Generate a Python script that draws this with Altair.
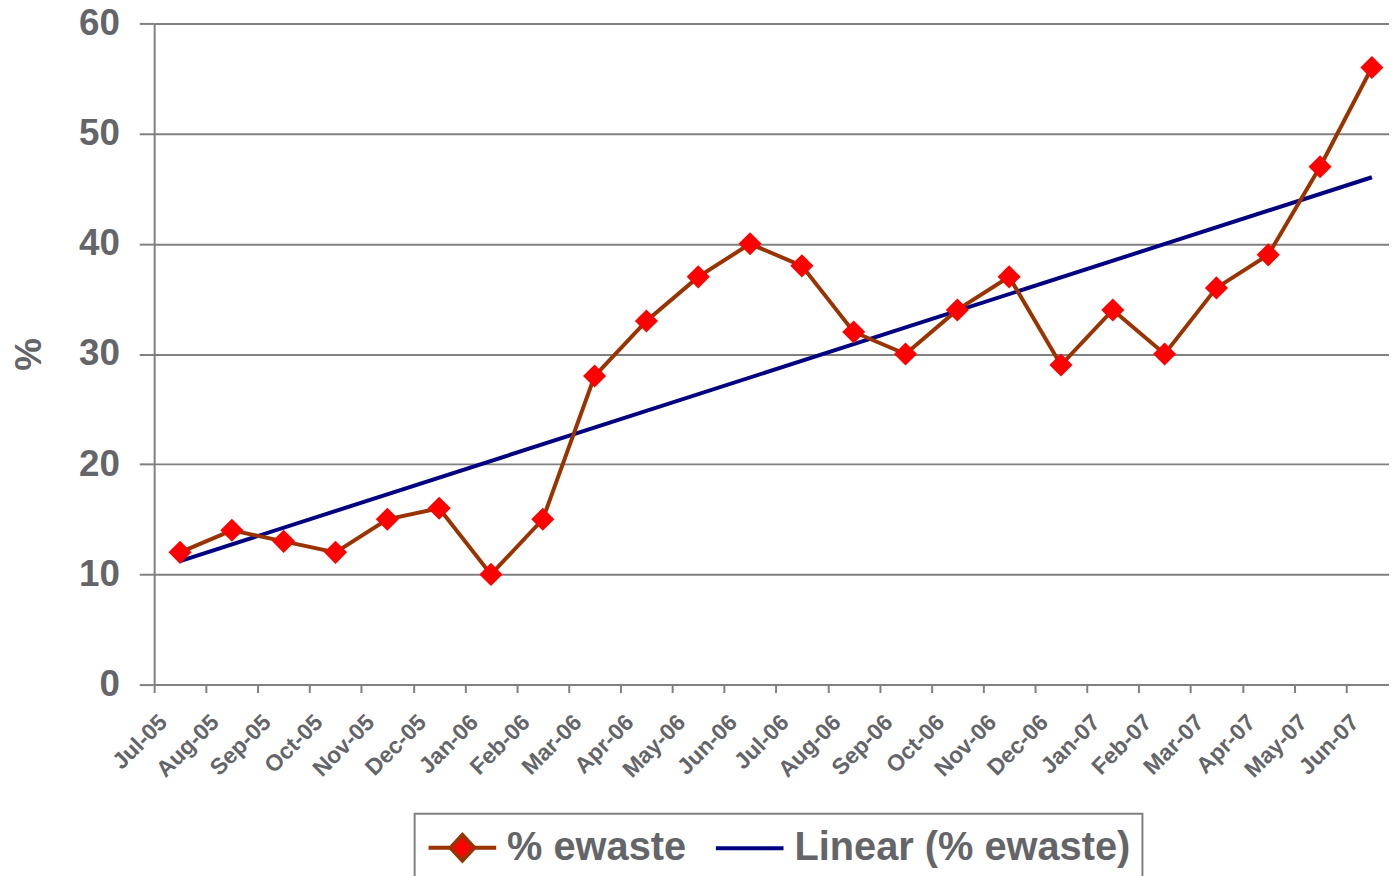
import json
import altair as alt
import pandas as pd

months = ["Jul-05", "Aug-05", "Sep-05", "Oct-05", "Nov-05", "Dec-05",
          "Jan-06", "Feb-06", "Mar-06", "Apr-06", "May-06", "Jun-06",
          "Jul-06", "Aug-06", "Sep-06", "Oct-06", "Nov-06", "Dec-06",
          "Jan-07", "Feb-07", "Mar-07", "Apr-07", "May-07", "Jun-07"]
ewaste = [12, 14, 13, 12, 15, 16, 10, 15, 28, 33, 37, 40,
          38, 32, 30, 34, 37, 29, 34, 30, 36, 39, 47, 56]
series_names = ["% ewaste", "Linear (% ewaste)"]
y_ticks = [0, 10, 20, 30, 40, 50, 60]

df = pd.DataFrame({
    "pos": [i + 0.5 for i in range(len(months))],
    "month": months,
    "value": ewaste,
})
legend_df = pd.DataFrame({"series": series_names, "pos": [None, None], "value": [None, None]})

FONT = "Liberation Sans"
GRAY = "#646569"
AXIS_GRAY = "#808080"
BROWN = "#993300"
NAVY = "#000080"

x_enc = alt.X(
    "pos:Q",
    scale=alt.Scale(domain=[0, 23.83], nice=False, zero=False),
    axis=alt.Axis(
        values=list(range(len(months))),
        labelExpr=json.dumps(months) + "[datum.value]",
        labelAngle=-45, labelAlign="right", labelBaseline="middle",
        labelFontSize=23, labelFont=FONT, labelFontWeight="bold", labelColor=GRAY,
        labelPadding=26, labelOffset=9,
        tickSize=8, tickColor=AXIS_GRAY, tickWidth=2,
        domainColor=AXIS_GRAY, domainWidth=2,
        grid=False, title=None, labelOverlap=False,
    ),
)
y_enc = alt.Y(
    "value:Q",
    scale=alt.Scale(domain=[0, 60], nice=False),
    axis=alt.Axis(
        values=y_ticks, title="%",
        titleFont=FONT, titleFontSize=37, titleFontWeight="bold", titleColor=GRAY,
        titlePadding=30,
        labelFont=FONT, labelFontSize=37, labelFontWeight="bold", labelColor=GRAY,
        labelPadding=20, tickSize=15, tickColor=AXIS_GRAY, tickWidth=2,
        domainColor=AXIS_GRAY, domainWidth=2,
        gridColor=AXIS_GRAY, gridWidth=2,
    ),
)

base = alt.Chart(df)

trend = base.transform_regression("pos", "value").mark_line(
    color=NAVY, strokeWidth=4
).encode(x=x_enc, y=y_enc)

line = base.mark_line(color=BROWN, strokeWidth=4).encode(x=x_enc, y=y_enc)

points = base.mark_point(
    shape="diamond", filled=True, color="#ff0000", size=540, opacity=1
).encode(x=x_enc, y=y_enc)

# legend symbols: declared size 40px, drawn 68px wide starting at the entry's left edge
sym_ewaste = "M-1,0L0.1,0M1.3,0L2.4,0M0.1,0L0.7,-0.64L1.3,0L0.7,0.64Z"
sym_linear = "M-1,0L2.4,0"

legend_layer = alt.Chart(legend_df).mark_point(
    filled=True, size=1600, strokeWidth=4, opacity=1
).encode(
    x=alt.X("pos:Q"),
    y=alt.Y("value:Q"),
    fill=alt.Fill("series:N", scale=alt.Scale(domain=series_names, range=["#ff0000", "transparent"]),
                  legend=alt.Legend(title=None)),
    stroke=alt.Stroke("series:N", scale=alt.Scale(domain=series_names, range=[BROWN, NAVY]),
                      legend=alt.Legend(title=None)),
    shape=alt.Shape("series:N", scale=alt.Scale(domain=series_names, range=[sym_ewaste, sym_linear]),
                    legend=alt.Legend(title=None)),
)

chart = alt.layer(trend, line, points, legend_layer).properties(
    width=1242, height=665,
    autosize=alt.AutoSizeParams(type="none"),
    padding={"left": 147, "top": 13, "right": 0, "bottom": 190},
).configure_view(strokeWidth=0).configure_legend(
    orient="none", legendX=262, legendY=795, direction="horizontal",
    strokeColor=AXIS_GRAY, strokeWidth=2, padding=12, fillColor="white",
    labelFont=FONT, labelFontSize=40, labelFontWeight="bold", labelColor=GRAY,
    labelOffset=37, columnPadding=21, symbolSize=1600, symbolStrokeWidth=4,
    symbolOpacity=1, labelLimit=600,
)

chart.save("out.html", embed_options={"renderer": "svg", "actions": False})
